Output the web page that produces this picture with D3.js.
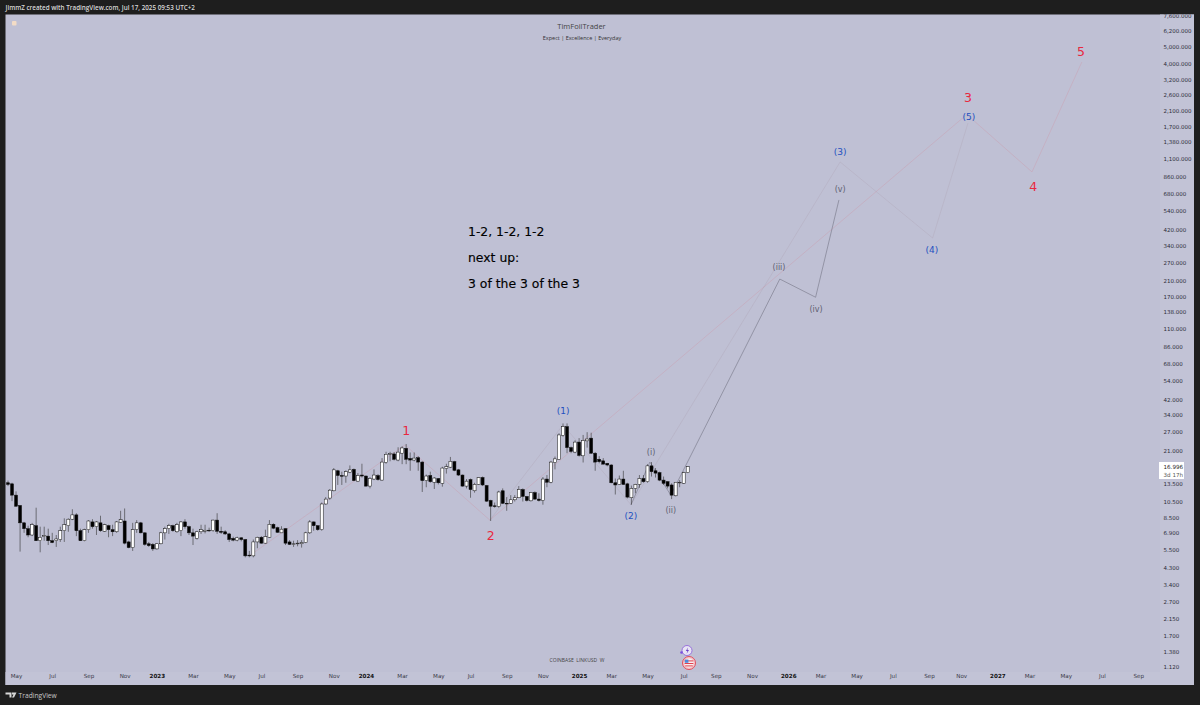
<!DOCTYPE html>
<html>
<head>
<meta charset="utf-8">
<style>
    html, body { margin: 0; padding: 0; background: #1e1e1e; }
    svg { display: block; }
    text { font-family: "Open Sans", sans-serif; }
</style>
<script src="https://cdn.jsdelivr.net/npm/d3@7"></script>
</head>
<body>
<svg id="chart" width="1200" height="705"></svg>
<script>
// weekly LINKUSD candles, first bar is the week of Apr 18 2022
var openPrices = [
    13.6,13.4,11.5,10,7.9,7.3,6.7,7.6,6.2,6.55,
    6.6,6.2,6.2,6.3,7.1,7.6,8.3,8.8,7.1,6.2,
    7.2,8,7.5,7.9,7.05,7.6,7.2,7,7.95,8.1,
    6.1,5.65,7.2,7.9,6.9,5.95,5.9,5.55,5.95,6.9,
    7.3,7.6,7,7.1,8,7.5,6.9,6.4,7,7.05,
    7.15,7.1,8.2,7.05,7,6.8,6.4,6.25,6.45,6.3,
    5.1,5.05,6.1,6.5,6,6.5,7.75,7.4,6.9,7.3,
    6.1,5.95,6,5.95,6.05,6.9,8,7.6,7.2,10.2,
    11.05,12.2,16,15,14.9,15.7,16.3,13.9,15.1,14.9,
    13,14.3,15,14.1,17.9,20,20.1,18.5,20.3,21.7,
    18.9,18.5,19.1,18,14,15,13.7,14.4,13.5,16.5,
    16.8,18.1,16.2,15.1,13,14.2,12.2,13.3,14.6,13.1,
    10.7,9.95,9.85,12.2,10.3,10.3,10.8,11.1,12.4,11.3,
    10.65,11.9,10.9,10.7,14.3,13.7,17.9,18.7,25.8,29.1,
    21.9,20.6,23.6,19.6,24,24.9,20.3,18.7,18.3,17.7,
    17.3,13.6,13.3,14.3,13.4,11.1,12.6,13.3,14.4,13.8,
    17.1,16,15.6,14.1,13.8,13.2,11.4,13.7,13.5,15.6];
var highPrices = [
    14,13.6,12.1,10,8,7.6,7.9,9.7,7.5,7.5,
    7.3,6.9,6.7,7.5,8.4,8.4,9.5,9,7.3,7.3,
    8.2,8.3,8.1,8.7,7.8,7.7,7.7,8.1,9.3,9.6,
    6.2,7.9,8.2,8,6.95,6.1,6,6,7,7.5,
    7.8,7.7,7.9,8.1,8.3,7.6,7.3,7.1,7.7,7.7,
    7.4,8.25,9,7.5,7.15,6.9,6.55,6.55,6.5,6.35,
    5.4,6.3,6.55,6.6,7.2,8.2,7.85,7.5,7.55,7.35,
    6.25,6.2,6.25,6.25,7,8.2,8.05,7.65,10.4,11.2,
    12.5,16.6,16.2,15.8,16.1,17.2,16.5,15.5,17.6,15,
    14.7,16.3,15.3,19,20.7,20.7,20.6,22,22.3,23,
    20.5,20.5,19.5,18.2,15.2,15.8,14.7,14.5,16.9,17.6,
    19.3,18.3,16.4,15.2,14.3,14.4,13.6,14.7,14.8,13.2,
    10.8,10.4,12.2,12.6,11.2,11.5,11.5,13,12.6,11.3,
    12,12.1,11.8,14.7,15.1,18.3,19.4,26.6,30.4,30.4,
    22.2,24.2,24.9,26,27,26.8,20.6,19.5,19,17.8,
    17.5,14.4,15,16,13.6,13.1,13.4,15.1,15.1,17.5,
    18,16.6,15.8,14.8,13.9,13.5,13.7,14.1,15.8,17];
var lowPrices = [
    13,10.6,9.8,5.35,6.9,6.5,6.6,6.2,5.3,6.2,
    5.85,6,5.7,6.1,6.1,7,8.2,6.6,6.2,6.15,
    6.9,7.3,6.7,7,7,6.5,6.6,6.9,7.9,5.9,
    5.6,5.4,6.9,6.85,5.8,5.7,5.4,5.5,5.9,6.3,
    6.8,7,6.9,6.6,7.3,6.7,5.85,6.3,6.8,6.85,
    7,7,6.8,6.8,6.7,6.1,6.15,6.15,6.15,4.95,
    4.95,4.95,5.6,5.95,5.95,6.45,7.25,6.9,6.9,5.85,
    5.85,5.7,5.75,5.65,6,6.8,7.1,7.1,7.1,10.1,
    10.8,12.1,13.2,13.2,13.6,15.5,13.9,13.8,14.6,12.9,
    12.6,14.1,14,14,17.6,18.2,18.4,18.2,17.5,17.5,
    16,18.2,16,12,12.8,13.6,12.5,13.3,12.9,15.4,
    16.6,15.9,14.9,12.9,12.6,11.1,11.9,13.2,13,10.5,
    8.1,9.7,9.7,10.2,9.3,10.2,10.55,11.05,10.55,10.55,
    10.55,10.8,10.55,10.1,12.8,13.5,16.3,18.7,25.4,20.3,
    20.3,20.3,19.4,17.9,21.9,20.1,16,17.7,17.5,17,
    13.5,11.6,13.2,13.2,11,10.1,11.8,12.7,13.6,13.6,
    14.8,14.6,13.9,13.2,12.6,10.9,11.3,12.8,13.4,15.5];
var closePrices = [
    13.3,11.5,9.9,7.9,7.3,6.7,7.7,6.2,6.5,6.65,
    6.2,6.05,6.35,7.1,7.7,8.3,8.8,7.1,6.2,7.2,
    8.1,7.5,8,7.1,7.7,7.2,7,8,8.25,6,
    5.65,7.2,7.9,6.9,5.9,5.8,5.55,5.95,6.9,7.3,
    7.6,7.1,7.7,8,7.5,6.9,6.6,7,7.2,7.15,
    7.1,8.2,7.05,6.95,6.8,6.3,6.25,6.45,6.3,5.05,
    5.05,6.1,6.5,6,6.55,7.75,7.35,6.95,7.25,6,
    5.9,5.95,6,6.05,6.9,8,7.6,7.2,10.2,10.9,
    12.3,16.2,15,14.9,15.8,16.2,14,15,14.9,13,
    14.4,15.1,14.2,18,20,20.2,18.7,20.6,21.8,18.7,
    18.5,19,18,14,14.9,13.8,14.5,13.6,16.6,16.9,
    18.2,16.1,15.1,13,13.9,12.4,13.3,14.6,13.2,10.6,
    9.9,9.9,12,10.3,10.25,10.8,11.1,12.4,11.3,10.7,
    11.9,10.9,10.7,14.3,13.7,18,18.8,26,29.1,21.9,
    20.8,23.6,19.7,24.1,24.6,20.3,18,18.1,17.5,17.3,
    13.6,13.2,14.3,13.3,11.2,12.6,13.3,14.4,13.8,17.1,
    15.8,15.5,14.1,13.5,13,11.5,13.7,13.7,15.6,16.9];

var priceTicks = [7600,6200,5000,4000,3200,2600,2100,1700,1380,1100,860,680,540,420,340,270,210,170,138,110,86,68,54,42,34,27,21,13.5,10.5,8.5,6.9,5.5,4.3,3.4,2.7,2.15,1.7,1.38,1.12];
var weekTicks = [2,11,20,29,37,46,55,63,72,81,89,98,107,115,124,133,142,150,159,168,176,185,194,202,211,220,229,237,246,254,263,272,281];
var weekLabels = ["May","Jul","Sep","Nov","2023","Mar","May","Jul","Sep","Nov","2024","Mar","May","Jul","Sep","Nov","2025","Mar","May","Jul","Sep","Nov","2026","Mar","May","Jul","Sep","Nov","2027","Mar","May","Jul","Sep"];

// elliott wave drawings, week number and price
var redWeeks = [60,98.7,119.8,238.4,254.6,267];
var redPrices = [5.05,22.7,8.2,2000,918,4074];
var blueWeeks = [119.8,138,154.9,206.9,229.9,238.7];
var bluePrices = [8.2,29.8,10.1,1051,375,1782];
var greyWeeks = [154.9,159.6,164.8,191.9,200.8,206.6];
var greyPrices = [10.1,18,11.5,215,168,628];

var redLabels = ["1","2","3","4","5"];
var redLabelWeeks = [99,120,238.7,254.9,266.8];
var redLabelPrices = [27.8,6.62,2501,749,4728];
var blueLabels = ["(1)","(2)","(3)","(4)","(5)"];
var blueLabelWeeks = [138,154.9,206.9,229.7,238.9];
var blueLabelPrices = [36,8.67,1203,319,1933];
var greyLabels = ["(i)","(ii)","(iii)","(iv)","(v)"];
var greyLabelWeeks = [159.9,164.8,191.7,200.9,206.9];
var greyLabelPrices = [20.6,9.4,250,143,728];

var noteLines = ["1-2, 1-2, 1-2","next up:","3 of the 3 of the 3"];

var plotLeft = 5.5, plotTop = 14.5, plotRight = 1194, plotBottom = 685;
var bodyWidth = 3;

var x = d3.scaleLinear().domain([0, 169]).range([8, 687.7]);
var y = d3.scaleLog().domain([1.12, 6200]).range([667, 31]);

var svg = d3.select("#chart");

svg.append("rect")
    .attr("x", plotLeft).attr("y", plotTop)
    .attr("width", plotRight - plotLeft).attr("height", plotBottom - plotTop)
    .attr("fill", "#bfc0d4");
// axis strips are a touch lighter than the pane
svg.append("rect")
    .attr("x", 1160).attr("y", plotTop)
    .attr("width", plotRight - 1160).attr("height", plotBottom - plotTop)
    .attr("fill", "#c2c3d6");
svg.append("rect")
    .attr("x", plotLeft).attr("y", 672)
    .attr("width", plotRight - plotLeft).attr("height", plotBottom - 672)
    .attr("fill", "#c2c3d6");

function waveLine(weeks, prices, color, opacity, width) {
    var line = d3.line()
        .x(function(d) { return x(d); })
        .y(function(d, i) { return y(prices[i]); });
    svg.append("path")
        .attr("d", line(weeks))
        .attr("fill", "none")
        .attr("stroke", color)
        .attr("stroke-opacity", opacity)
        .attr("stroke-width", width);
}
waveLine(redWeeks, redPrices, "#e0606e", 0.2, 0.8);
waveLine(blueWeeks, bluePrices, "#a08a9e", 0.28, 0.7);
waveLine(greyWeeks, greyPrices, "#6f6f80", 0.7, 0.8);

// candles
var candles = svg.append("g").selectAll("g")
    .data(openPrices)
    .enter().append("g");
candles.append("line")
    .attr("x1", function(d, i) { return x(i); })
    .attr("x2", function(d, i) { return x(i); })
    .attr("y1", function(d, i) { return y(highPrices[i]); })
    .attr("y2", function(d, i) { return y(lowPrices[i]); })
    .attr("stroke", "#333")
    .attr("stroke-width", 0.6);
candles.append("rect")
    .attr("x", function(d, i) { return x(i) - bodyWidth / 2; })
    .attr("width", bodyWidth)
    .attr("y", function(d, i) { return y(Math.max(d, closePrices[i])); })
    .attr("height", function(d, i) {
        return Math.max(0.7, y(Math.min(d, closePrices[i])) - y(Math.max(d, closePrices[i])));
    })
    .attr("fill", function(d, i) { return closePrices[i] >= d ? "#fff" : "#000"; })
    .attr("stroke", "#111")
    .attr("stroke-width", 0.5);

function waveLabels(labels, weeks, prices, color, size, weight) {
    svg.append("g").selectAll("text")
        .data(labels)
        .enter().append("text")
        .text(function(d) { return d; })
        .attr("x", function(d, i) { return x(weeks[i]); })
        .attr("y", function(d, i) { return y(prices[i]); })
        .attr("text-anchor", "middle")
        .attr("dominant-baseline", "central")
        .attr("fill", color)
        .style("font-family", "'DejaVu Sans', sans-serif")
        .style("font-size", size + "px")
        .style("font-weight", weight);
}
waveLabels(redLabels, redLabelWeeks, redLabelPrices, "#e8283f", 12.5, 400);
waveLabels(blueLabels, blueLabelWeeks, blueLabelPrices, "#2450c0", 9, 400);
waveLabels(greyLabels, greyLabelWeeks, greyLabelPrices, "#606072", 8, 400);

// note in the middle of the pane
svg.append("g").selectAll("text")
    .data(noteLines)
    .enter().append("text")
    .text(function(d) { return d; })
    .attr("x", 468)
    .attr("y", function(d, i) { return [236, 262, 288][i]; })
    .attr("fill", "#000")
    .attr("stroke", "#000")
    .attr("stroke-width", 0.15)
    .style("font-family", "'DejaVu Sans', sans-serif")
    .style("font-size", "12.4px");

// axes
var priceAxis = d3.axisRight(y)
    .tickValues(priceTicks)
    .tickFormat(d3.format(",.3f"))
    .tickSize(0)
    .tickPadding(0);
svg.append("clipPath").attr("id", "price-clip")
    .append("rect").attr("x", -10).attr("y", plotTop)
    .attr("width", 60).attr("height", plotBottom - plotTop);
var priceG = svg.append("g")
    .attr("transform", "translate(1163.5,0)")
    .attr("clip-path", "url(#price-clip)")
    .call(priceAxis);
priceG.select(".domain").remove();
priceG.selectAll("text")
    .attr("fill", "#2c2c38")
    .style("font-family", "'DejaVu Sans', sans-serif")
    .style("font-size", "5.5px");

var timeAxis = d3.axisBottom(x)
    .tickValues(weekTicks)
    .tickFormat(function(d, i) { return weekLabels[i]; })
    .tickSize(0)
    .tickPadding(0);
var timeG = svg.append("g")
    .attr("transform", "translate(0,674)")
    .call(timeAxis);
timeG.select(".domain").remove();
timeG.selectAll("text")
    .attr("fill", function(d, i) { return /^\d/.test(weekLabels[i]) ? "#111" : "#3a3a48"; })
    .style("font-family", "'DejaVu Sans', sans-serif")
    .style("font-size", "5.6px")
    .style("font-weight", function(d, i) { return /^\d/.test(weekLabels[i]) ? 600 : 400; });

// last price box
svg.append("rect")
    .attr("x", 1159).attr("y", 462).attr("width", 25).attr("height", 17)
    .attr("fill", "#fff");
svg.append("text").text("16.996")
    .attr("x", 1163.5).attr("y", 469)
    .attr("fill", "#222")
    .style("font-family", "'DejaVu Sans', sans-serif").style("font-size", "5.6px");
svg.append("text").text("3d 17h")
    .attr("x", 1163.5).attr("y", 476.5)
    .attr("fill", "#555")
    .style("font-family", "'DejaVu Sans', sans-serif").style("font-size", "5.6px");

// titles and watermark
svg.append("text").text("TimFoilTrader")
    .attr("x", 581.5).attr("y", 29)
    .attr("text-anchor", "middle").attr("fill", "#444")
    .style("font-size", "7.5px");
svg.append("text").text("Expect | Excellence | Everyday")
    .attr("x", 582).attr("y", 39.5)
    .attr("text-anchor", "middle").attr("fill", "#333")
    .style("font-size", "5.5px");
svg.append("text").text("COINBASE  LINKUSD  W")
    .attr("x", 577).attr("y", 662)
    .attr("text-anchor", "middle").attr("fill", "#444")
    .attr("xml:space", "preserve")
    .style("font-size", "5px");

// frame text
svg.append("text").text("JimmZ created with TradingView.com, Jul 17, 2025 09:53 UTC+2")
    .attr("x", 5.5).attr("y", 10)
    .attr("fill", "#d8d8d8")
    .style("font-size", "6.3px")
    .style("font-weight", 600);
svg.append("text").text("TradingView")
    .attr("x", 18.5).attr("y", 698)
    .attr("fill", "#c8c8c8")
    .style("font-size", "6.7px")
    .style("font-weight", 400);
svg.append("path")
    .attr("d", "M5.5 692.5h6v5h-2v-3h-4zM12 692.5h4.5l-2.5 5h-2l1.5-3h-1.5z")
    .attr("fill", "#d8d8d8");

// small marks: logo corner, earnings and flag bubbles
svg.append("rect")
    .attr("x", 12).attr("y", 21).attr("width", 4.5).attr("height", 4.5).attr("rx", 1)
    .attr("fill", "#f3dcc6");
svg.append("circle").attr("cx", 687).attr("cy", 650.5).attr("r", 5)
    .attr("fill", "#e8e4f4").attr("stroke", "#8a5ad8").attr("stroke-width", 0.8);
svg.append("path").attr("d", "M688 647.5l-2.2 3.4h1.6l-.8 2.8 2.4-3.6h-1.6z").attr("fill", "#6a3fc8");
svg.append("circle").attr("cx", 681.5).attr("cy", 652.5).attr("r", 1.3).attr("fill", "#7a4fe0");
svg.append("circle").attr("cx", 689).attr("cy", 663).attr("r", 6.5)
    .attr("fill", "#f2c8cc").attr("stroke", "#e2404f").attr("stroke-width", 0.9);
svg.append("circle").attr("cx", 689).attr("cy", 663).attr("r", 4.6).attr("fill", "#f7f0f2");
svg.append("rect").attr("x", 684.6).attr("y", 660.4).attr("width", 8.8).attr("height", 1).attr("fill", "#e2404f");
svg.append("rect").attr("x", 684.6).attr("y", 663).attr("width", 8.8).attr("height", 1).attr("fill", "#e2404f");
svg.append("rect").attr("x", 685.2).attr("y", 665.4).attr("width", 7.6).attr("height", 1).attr("fill", "#e2404f");
svg.append("rect").attr("x", 684.8).attr("y", 659.6).attr("width", 3.6).attr("height", 3.2).attr("fill", "#4f8ad8");
</script>
</body>
</html>
